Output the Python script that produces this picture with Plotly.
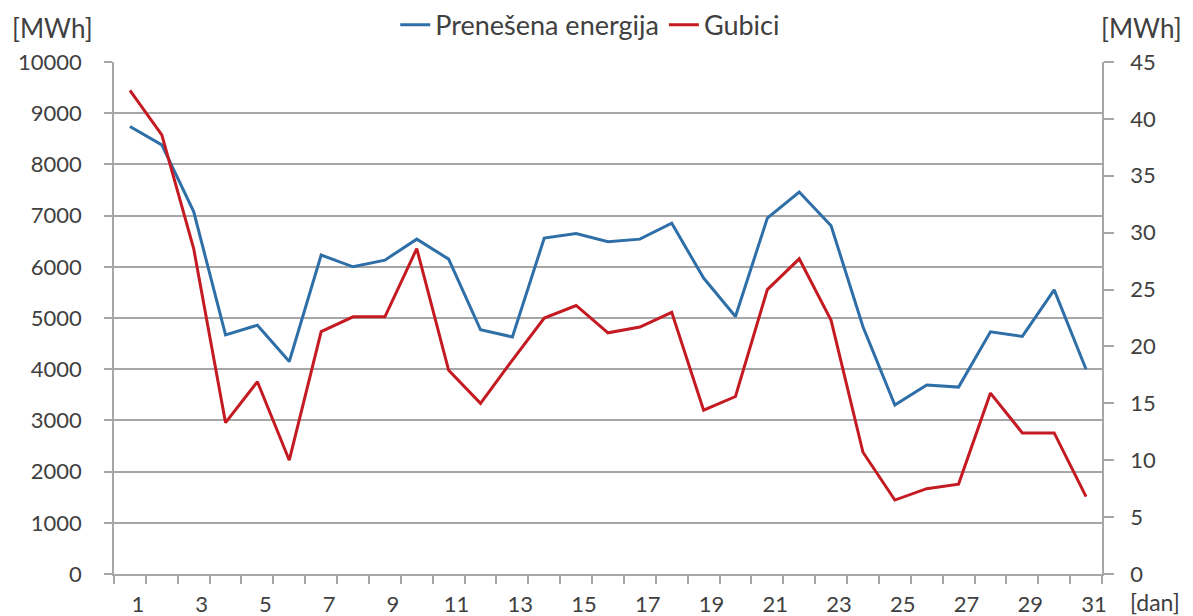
import plotly.graph_objects as go

days = list(range(1, 32))
energija = [8740, 8380, 7080, 4670, 4860, 4150, 6230, 6000, 6130, 6540,
            6150, 4770, 4630, 6560, 6650, 6490, 6540, 6850, 5780, 5030,
            6950, 7460, 6800, 4830, 3300, 3690, 3650, 4730, 4640, 5550, 4000]
gubici = [42.5, 38.6, 28.6, 13.3, 16.9, 10.0, 21.3, 22.6, 22.6, 28.6,
          17.9, 15.0, 18.8, 22.5, 23.6, 21.2, 21.7, 23.0, 14.4, 15.6,
          25.0, 27.7, 22.3, 10.7, 6.5, 7.5, 7.9, 15.9, 12.4, 12.4, 6.8]
left_ticks = list(range(0, 10001, 1000))
right_ticks = list(range(0, 46, 5))
x_labels = [str(d) for d in range(1, 32, 2)]

FONT = "Lato"
TXT = "#404040"
GRID = "#a6a6a6"

fig = go.Figure()
fig.add_trace(go.Scatter(x=days, y=energija, name="Prenešena energija", mode="lines",
                         line=dict(color="#2f6fa8", width=3), yaxis="y"))
fig.add_trace(go.Scatter(x=days, y=gubici, name="Gubici", mode="lines",
                         line=dict(color="#c41a22", width=3), yaxis="y2"))

fig.update_layout(
    width=1185, height=608,
    margin=dict(l=106, r=91, t=54, b=42, autoexpand=False),
    paper_bgcolor="white", plot_bgcolor="white",
    font=dict(family=FONT, size=22, color=TXT),
    showlegend=True,
    legend=dict(orientation="h", x=0.482, xanchor="center", y=1.072, yanchor="middle",
                font=dict(size=27, color=TXT), bgcolor="rgba(0,0,0,0)",
                itemwidth=30, tracegroupgap=0),
    xaxis=dict(range=[0.5, 31.5], tickmode="array",
               tickvals=[d + 0.25 for d in range(1, 32, 2)], ticktext=x_labels,
               ticks="", showgrid=False, zeroline=False, automargin=False,
               showline=True, linecolor=GRID, linewidth=1.5,
               ticklabelstandoff=10,
               minor=dict(ticks="outside", tick0=0.5, dtick=1, ticklen=8,
                          tickcolor=GRID, tickwidth=1.5, showgrid=False)),
    yaxis=dict(range=[0, 10000], tickmode="array", tickvals=left_ticks,
               ticktext=[str(v) for v in left_ticks], automargin=False,
               ticks="outside", ticklen=8, tickcolor=GRID, tickwidth=1.5,
               showgrid=True, gridcolor=GRID, gridwidth=1.5, zeroline=False,
               showline=True, linecolor=GRID, linewidth=1.5,
               ticklabelstandoff=18),
    yaxis2=dict(range=[0, 45], tickmode="array", tickvals=right_ticks,
                ticktext=[str(v) for v in right_ticks], automargin=False,
                overlaying="y", side="right",
                ticks="outside", ticklen=10, tickcolor=GRID, tickwidth=1.5,
                showgrid=False, zeroline=False,
                showline=True, linecolor=GRID, linewidth=1.5,
                ticklabelstandoff=12),
    annotations=[
        dict(text="[MWh]", xref="paper", yref="paper", x=-0.062, y=1.066,
             showarrow=False, xanchor="center", yanchor="middle",
             font=dict(size=26, color=TXT)),
        dict(text="[MWh]", xref="paper", yref="paper", x=1.0395, y=1.066,
             showarrow=False, xanchor="center", yanchor="middle",
             font=dict(size=26, color=TXT)),
        dict(text="[dan]", xref="paper", yref="paper", x=1.081, y=-0.055,
             showarrow=False, xanchor="right", yanchor="middle",
             font=dict(size=23, color=TXT)),
    ],
)

fig.write_html("out.html")
